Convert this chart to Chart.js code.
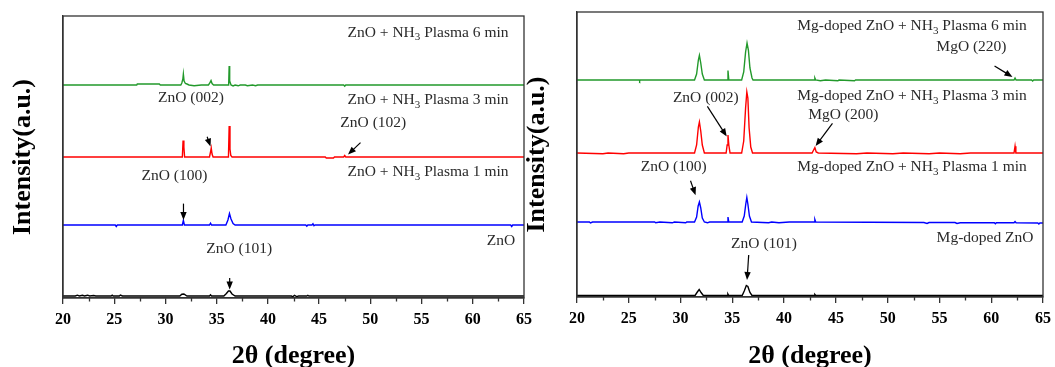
<!DOCTYPE html>
<html><head><meta charset="utf-8">
<script src="https://cdn.jsdelivr.net/npm/chart.js@4.4.0/dist/chart.umd.min.js"></script>
<style>
html,body{margin:0;padding:0;background:#fff;}
#wrap{position:relative;width:1055px;height:367px;overflow:hidden;background:#fff;}
#c1{position:absolute;left:0;top:0;}
#c2{position:absolute;left:522px;top:0;}
</style></head><body>
<div id="wrap"><canvas id="c1" width="538" height="367"></canvas><canvas id="c2" width="535" height="367"></canvas></div>
<script>
// ---------- DATA (2θ in degrees, intensity in a.u. above each pattern's own baseline) ----------
const xTicks = [20,25,30,35,40,45,50,55,60,65];
const xMinorTicks = [22.5,27.5,32.5,37.5,42.5,47.5,52.5,57.5,62.5];

// Left panel: ZnO
const leftNames = ['ZnO','ZnO + NH3 Plasma 1 min','ZnO + NH3 Plasma 3 min','ZnO + NH3 Plasma 6 min'];
const leftOffsets = [2, 73, 141, 213];
const leftZnO = [[20,0],[21.2,0],[21.4,0.8],[21.6,0],[21.9,0.7],[22.1,0],[22.4,0.8],[22.6,0],[23,0.5],[23.2,0],[24.7,0],[24.8,0.8],[24.9,0],[25.5,0],[25.6,1],[25.8,0],[31.4,0],[31.6,1.8],[31.8,2],[32.1,0],[34.3,0],[34.4,1.2],[34.5,0],[35.7,0],[35.95,2.5],[36.15,5],[36.3,5],[36.5,2],[36.8,0],[42.3,0],[42.4,-0.8],[42.6,0.6],[42.8,-0.6],[43,0],[43.8,0],[43.9,0.6],[44,0],[65,0]];
const leftNH3_1 = [[20,0],[25.1,0],[25.2,-1.5],[25.3,0],[31.65,0],[31.75,4.5],[31.85,0],[34.3,0],[34.4,1.8],[34.5,0],[35.9,0],[36.1,5],[36.25,11.5],[36.4,6],[36.6,1.5],[36.8,0],[43.7,0],[43.8,-1.2],[43.9,0],[44.3,0],[44.4,1.2],[44.5,-0.8],[44.6,0],[63.7,0],[63.8,-1.5],[63.9,0],[65,0]];
const leftNH3_3 = [[20,0],[31.65,0],[31.72,16.5],[31.8,10],[31.87,0],[34.3,0],[34.4,5],[34.47,9],[34.55,3],[34.65,0],[36.15,0],[36.22,31],[36.3,8],[36.38,1.5],[36.5,0],[45.6,0],[45.7,-1],[46.4,-1],[46.5,0],[47.4,0],[47.5,1.5],[47.6,0],[65,0]];
const leftNH3_6 = [[20,0],[27.2,0],[27.25,1],[29.4,1],[29.5,0],[31.5,0],[31.6,2],[31.7,6],[31.75,11],[31.82,4],[31.95,1.5],[32.1,1],[32.3,0],[32.8,-0.8],[33.5,0],[34.2,0],[34.3,1.5],[34.45,4.5],[34.55,1.5],[34.7,0],[36.17,0],[36.22,19],[36.27,4],[36.4,0],[36.6,-1],[36.8,0],[37.1,-0.8],[37.3,0],[37.8,0],[38.0,-0.7],[38.5,0],[38.8,-0.7],[39,0],[47.4,0],[47.5,-1.2],[47.6,0],[65,0]];

// Right panel: Mg-doped ZnO
const rightNames = ['Mg-doped ZnO','Mg-doped ZnO + NH3 Plasma 1 min','Mg-doped ZnO + NH3 Plasma 3 min','Mg-doped ZnO + NH3 Plasma 6 min'];
const rightOffsets = [1.5, 75, 144, 217];
const rightMgZnO = [[20,0],[31.4,0],[31.62,3.5],[31.8,6],[31.98,3],[32.2,0],[34.5,0],[34.57,1.5],[34.65,0],[35.95,0],[36.15,4.5],[36.35,10],[36.5,9],[36.7,3],[36.9,0],[42.9,0],[42.97,1],[43.05,0],[65,0]];
const rightNH3_1 = [[20,0],[21.2,0],[21.3,-1],[21.5,0],[27.5,0],[27.6,-0.8],[28,0],[29.2,-0.8],[29.4,0],[30.5,-0.8],[30.6,0],[31.35,0],[31.55,5],[31.7,16],[31.82,20],[31.95,14],[32.1,4],[32.3,0],[32.6,-0.8],[32.8,0],[34.5,0],[34.58,5],[34.66,0],[35.95,0],[36.15,6],[36.3,18],[36.4,24.5],[36.5,18],[36.65,6],[36.85,0],[38.5,-0.8],[38.8,0],[39.5,-0.8],[40.5,0],[42.9,0],[42.97,2.5],[43.05,0],[53.5,-0.5],[53.8,-1.5],[54,-0.5],[56.5,-0.5],[56.7,-1.5],[57,-0.8],[60.3,-0.8],[60.4,-1.8],[60.5,-0.8],[62.2,-0.8],[62.3,0.5],[62.4,-0.8],[64.5,-1],[64.6,-2],[64.7,-1],[65,-1]];
const rightNH3_3 = [[20,0],[22.5,-0.7],[23,0],[24.5,-0.7],[25,0],[31.35,0],[31.55,8],[31.72,26],[31.82,31],[31.95,22],[32.1,8],[32.3,0],[34.4,0],[34.5,8],[34.58,18],[34.66,8],[34.78,0],[35.9,0],[36.1,12],[36.28,45],[36.4,61],[36.5,55],[36.62,25],[36.78,6],[36.95,0],[42.7,0],[42.85,3],[42.97,5.4],[43.1,1],[43.3,0],[47,-0.7],[48,0],[50.5,-0.7],[51.5,0],[54,-0.8],[55,0],[57,-0.8],[58,0],[62.2,0],[62.3,6.8],[62.38,0],[65,0]];
const rightNH3_6 = [[20,0],[26,0],[26.05,-1],[26.1,0],[31.35,0],[31.55,6],[31.72,20],[31.82,24.7],[31.95,17],[32.1,6],[32.3,0],[34.5,0],[34.58,9.5],[34.66,0],[35.9,0],[36.1,8],[36.28,28],[36.42,37],[36.55,30],[36.7,12],[36.9,2],[37.0,0],[42.9,0],[42.97,2],[43.05,0],[43.5,-0.8],[44,0],[45.2,-0.8],[45.3,0],[46.8,-0.8],[46.9,0],[62.2,0],[62.3,2],[62.4,0],[63.9,0],[64,-1],[64.1,0],[65,0]];

const seriesColors = ['#000000','#0000ff','#ff0000','#22992b'];

// ---------- annotations (positions in data coordinates) ----------
const leftAnnot = {
  labels: [
    {t:'ZnO + NH{3} Plasma 6 min', x:63.49, y:265, a:'right'},
    {t:'ZnO (002)', x:32.49, y:200, a:'center'},
    {t:'ZnO + NH{3} Plasma 3 min', x:63.49, y:197.7, a:'right'},
    {t:'ZnO (102)', x:50.29, y:174.7, a:'center'},
    {t:'ZnO (100)', x:30.88, y:122.3, a:'center'},
    {t:'ZnO + NH{3} Plasma 1 min', x:63.49, y:125.7, a:'right'},
    {t:'ZnO (101)', x:37.2, y:48.7, a:'center'},
    {t:'ZnO', x:64.14, y:57.2, a:'right'}
  ],
  arrows: [
    {from:[49.04,155.4], to:[47.82,143.5]},
    {from:[34.07,161.2], to:[34.40,151.5]},
    {from:[31.76,94.4], to:[31.76,78]},
    {from:[36.27,20], to:[36.27,8.5]}
  ]
};
const rightAnnot = {
  labels: [
    {t:'Mg-doped ZnO + NH{3} Plasma 6 min', x:63.43, y:270.6, a:'right'},
    {t:'MgO (220)', x:58.09, y:249.7, a:'center'},
    {t:'ZnO (002)', x:32.44, y:199, a:'center'},
    {t:'Mg-doped ZnO + NH{3} Plasma 3 min', x:63.43, y:200.7, a:'right'},
    {t:'MgO (200)', x:45.72, y:182.1, a:'center'},
    {t:'ZnO (100)', x:29.34, y:129.8, a:'center'},
    {t:'Mg-doped ZnO + NH{3} Plasma 1 min', x:63.43, y:129.8, a:'right'},
    {t:'ZnO (101)', x:38.06, y:53.5, a:'center'},
    {t:'Mg-doped ZnO', x:64.08, y:58.9, a:'right'}
  ],
  arrows: [
    {from:[60.32,231.1], to:[62.05,220]},
    {from:[32.59,190.6], to:[34.46,160.5]},
    {from:[44.67,173.7], to:[43.04,151]},
    {from:[30.96,116.2], to:[31.45,101.8]},
    {from:[36.58,42], to:[36.42,17]}
  ]
};

const SERIF = '"Liberation Serif", "Times New Roman", serif';

function drawLabel(ctx, text, px, py, align) {
  const parts = text.split(/\{(\d)\}/);
  const mainFont = '15.5px ' + SERIF, subFont = '11px ' + SERIF;
  let w = 0;
  parts.forEach((p, i) => { ctx.font = (i % 2) ? subFont : mainFont; w += ctx.measureText(p).width; });
  let x = align === 'right' ? px - w : (align === 'center' ? px - w / 2 : px);
  ctx.fillStyle = '#2a2a2a';
  ctx.textBaseline = 'middle';
  ctx.textAlign = 'left';
  parts.forEach((p, i) => {
    const sub = i % 2 === 1;
    ctx.font = sub ? subFont : mainFont;
    ctx.fillText(p, x, py + (sub ? 4.5 : 0));
    x += ctx.measureText(p).width;
  });
}
function drawArrow(ctx, x1, y1, x2, y2) {
  const ang = Math.atan2(y2 - y1, x2 - x1);
  const L = 8, W = 3.2;
  ctx.strokeStyle = '#000'; ctx.fillStyle = '#000'; ctx.lineWidth = 1.2;
  ctx.beginPath(); ctx.moveTo(x1, y1); ctx.lineTo(x2 - Math.cos(ang) * L * 0.8, y2 - Math.sin(ang) * L * 0.8); ctx.stroke();
  ctx.beginPath();
  ctx.moveTo(x2, y2);
  ctx.lineTo(x2 - Math.cos(ang) * L + Math.sin(ang) * W, y2 - Math.sin(ang) * L - Math.cos(ang) * W);
  ctx.lineTo(x2 - Math.cos(ang) * L - Math.sin(ang) * W, y2 - Math.sin(ang) * L + Math.cos(ang) * W);
  ctx.closePath(); ctx.fill();
}
function annotPlugin(annot) {
  return {
    id: 'annot',
    afterDatasetsDraw(chart) {
      const {ctx, chartArea: ca} = chart;
      const xs = chart.scales.x, ys = chart.scales.y;
      ctx.save();
      ctx.strokeStyle = '#333'; ctx.lineWidth = 1.3;
      ctx.strokeRect(ca.left, ca.top, ca.right - ca.left, ca.bottom - ca.top);
      ctx.beginPath();
      xMinorTicks.forEach(v => { const px = Math.round(xs.getPixelForValue(v)) + 0.5; ctx.moveTo(px, ca.bottom); ctx.lineTo(px, ca.bottom + 3.5); });
      ctx.stroke();
      annot.labels.forEach(l => drawLabel(ctx, l.t, xs.getPixelForValue(l.x), ys.getPixelForValue(l.y), l.a));
      annot.arrows.forEach(a => drawArrow(ctx, xs.getPixelForValue(a.from[0]), ys.getPixelForValue(a.from[1]),
                                              xs.getPixelForValue(a.to[0]), ys.getPixelForValue(a.to[1])));
      ctx.restore();
    }
  };
}

function makeChart(id, names, patterns, offsets, annot, g) {
  const datasets = patterns.map((pts, i) => ({
    label: names[i],
    data: pts.map(p => ({x: p[0], y: p[1] + offsets[i]})),
    borderColor: seriesColors[i],
    borderWidth: 1.4,
    pointRadius: 0,
    tension: 0,
    fill: false
  }));
  return new Chart(document.getElementById(id), {
    type: 'line',
    data: {datasets},
    options: {
      responsive: false, animation: false, devicePixelRatio: 1,
      layout: {padding: {left: 0, right: g.padR, top: g.padT, bottom: 0}},
      plugins: {legend: {display: false}, tooltip: {enabled: false}},
      scales: {
        x: {
          type: 'linear', min: 20, max: 65,
          afterBuildTicks: s => { s.ticks = xTicks.map(v => ({value: v})); },
          ticks: {font: {family: SERIF, size: 16, weight: 'bold'}, color: '#000', padding: 6, maxRotation: 0, autoSkip: false},
          grid: {display: true, drawOnChartArea: false, tickLength: 6, color: '#333', lineWidth: 1.3},
          border: {display: true, color: '#333', width: 1.3},
          title: {display: true, text: '2θ (degree)', color: '#000',
                  font: {family: SERIF, size: 26, weight: 'bold', lineHeight: 0.8}, padding: {top: 0, bottom: 0}},
          afterFit: s => { s.height = g.xH; }
        },
        y: {
          type: 'linear', min: 0, max: g.yMax,
          ticks: {display: false},
          grid: {display: false, drawTicks: false},
          border: {display: true, color: '#333', width: 1.3},
          title: {display: true, text: 'Intensity(a.u.)', color: '#000',
                  font: {family: SERIF, size: 26, weight: 'bold', lineHeight: 1.2}, padding: {top: g.yTitlePad, bottom: 0}},
          afterFit: s => { s.width = g.yW; }
        }
      }
    },
    plugins: [annotPlugin(annot)]
  });
}

makeChart('c1', leftNames, [leftZnO, leftNH3_1, leftNH3_3, leftNH3_6], leftOffsets, leftAnnot,
          {padR: 12, padT: 16, xH: 69, yW: 63, yMax: 282, yTitlePad: 8});
makeChart('c2', rightNames, [rightMgZnO, rightNH3_1, rightNH3_3, rightNH3_6], rightOffsets, rightAnnot,
          {padR: 12, padT: 12, xH: 70, yW: 55, yMax: 285, yTitlePad: 0});
</script>
</body></html>
